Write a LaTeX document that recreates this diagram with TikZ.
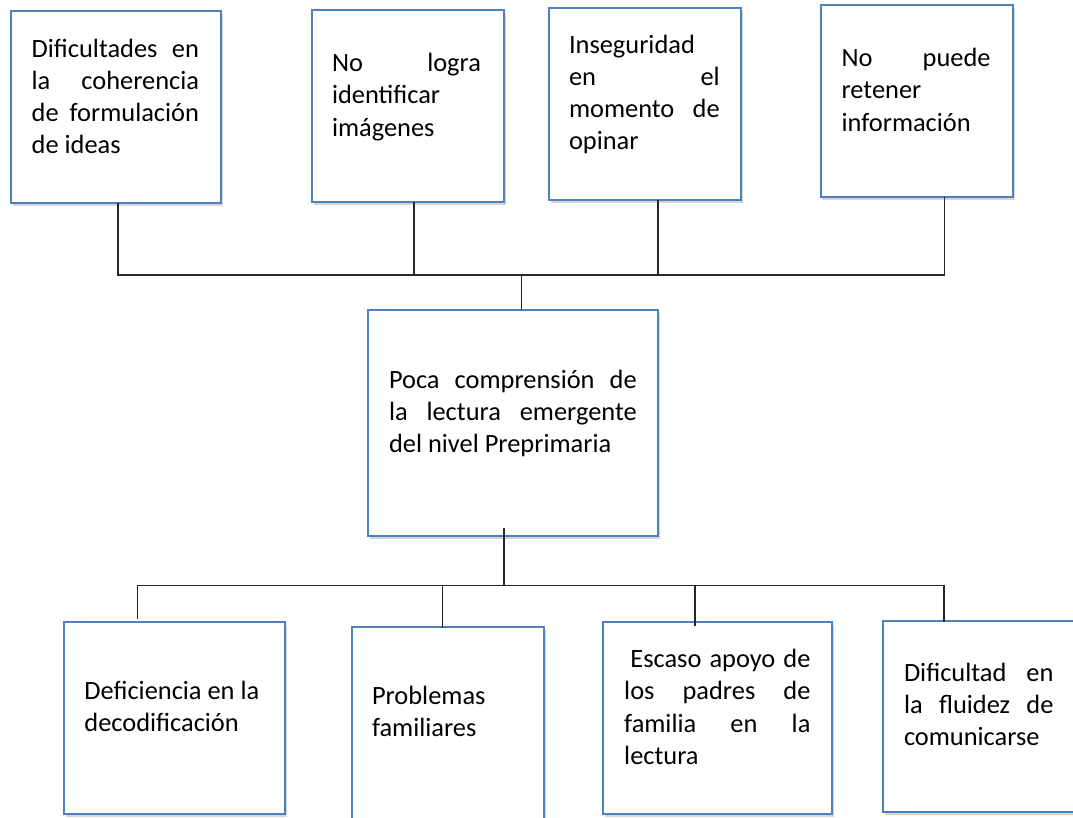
\documentclass[tikz,border=0pt]{standalone}
\usepackage{fontspec}
\setmainfont{Carlito}
\usetikzlibrary{shadows}
\definecolor{boxblue}{HTML}{4F81BD}
\newcommand{\jl}[1]{\makebox[\linewidth][s]{#1}}
\newcommand{\tb}[2]{\parbox[t]{#1}{\fontsize{26.4}{32.2}\selectfont #2}}
\begin{document}
\begin{tikzpicture}[x=1pt,y=-1pt,
  box/.style={draw=boxblue, line width=2pt, fill=white, inner sep=0pt, outer sep=0pt,
    drop shadow={shadow xshift=1.5pt, shadow yshift=-3pt, opacity=0.35, fill=black!45}},
  txt/.style={inner sep=0pt, outer sep=0pt, anchor=base west},
  con/.style={draw=black!85, line width=1.3pt}]
\clip (0,0) rectangle (1073,817);
\fill[white] (0,0) rectangle (1073,817);
% boxes
\node[box, minimum width=210pt, minimum height=192pt] (b1) at (116,107) {};
\node[box, minimum width=192pt, minimum height=192pt] (b2) at (408,106) {};
\node[box, minimum width=192pt, minimum height=192pt] (b3) at (645,104) {};
\node[box, minimum width=192.5pt, minimum height=192pt] (b4) at (916.75,101) {};
\node[box, minimum width=290pt, minimum height=226pt] (bc) at (513,423) {};
\node[box, minimum width=221pt, minimum height=192pt] (b5) at (174.5,718) {};
\node[box, minimum width=192pt, minimum height=203pt] (b6) at (448,728.5) {};
\node[box, minimum width=229pt, minimum height=192pt] (b7) at (717.5,718) {};
\node[box, minimum width=207pt, minimum height=191pt] (b8) at (986.5,716.5) {};
% texts
\node[txt] (t1) at (31.7,57.3) {\tb{167.3pt}{\jl{Dificultades en}\par\jl{la coherencia}\par\jl{de formulación}\par de ideas}};
\node[txt] (t2) at (332,71.7) {\tb{149pt}{\jl{No logra}\par identificar\par imágenes}};
\node[txt] (t3) at (569,53.3) {\tb{150.7pt}{Inseguridad\par\jl{en el}\par\jl{momento de}\par opinar}};
\node[txt] (t4) at (841.6,66.7) {\tb{149pt}{\jl{No puede}\par retener\par información}};
\node[txt] (tc) at (389,388.3) {\tb{247.7pt}{\jl{Poca comprensión de}\par\jl{la lectura emergente}\par del nivel Preprimaria}};
\node[txt] (t5) at (84.4,699.3) {\tb{195pt}{Deficiencia en la\par decodificación}};
\node[txt] (t6) at (372,704.3) {\tb{160pt}{Problemas\par familiares}};
\node[txt] (t7) at (624.2,667.7) {\tb{186.3pt}{\jl{\hspace{6.2pt}Escaso apoyo de}\par\jl{los padres de}\par\jl{familia en la}\par lectura}};
\node[txt] (t8) at (904,681) {\tb{149.5pt}{\jl{Dificultad en}\par\jl{la fluidez de}\par comunicarse}};
% junction coordinates
\coordinate (h1) at (118,275);
\coordinate (h2) at (414,275);
\coordinate (h3) at (658,275);
\coordinate (h4) at (944.5,275);
\coordinate (hc) at (521.7,275);
\coordinate (cb) at (504,528);
\coordinate (d0) at (504,585.7);
\coordinate (d1) at (137.7,585.7);
\coordinate (d2) at (442.5,585.7);
\coordinate (d3) at (695,585.7);
\coordinate (d4) at (944,585.7);
\coordinate (e1) at (137.7,619);
\coordinate (e2) at (442.5,628);
\coordinate (e3) at (695,626);
\coordinate (e4) at (944,622);
% connectors
\draw[con] (b1.south -| h1) -- (h1) -- (h4) -- (b4.south -| h4);
\draw[con] (b2.south -| h2) -- (h2);
\draw[con] (b3.south -| h3) -- (h3);
\draw[con] (hc) -- (bc.north -| hc);
\draw[con] (cb) -- (d0);
\draw[con] (e1) -- (d1) -- (d4) -- (e4);
\draw[con] (d2) -- (e2);
\draw[con] (d3) -- (e3);
\end{tikzpicture}
\end{document}
